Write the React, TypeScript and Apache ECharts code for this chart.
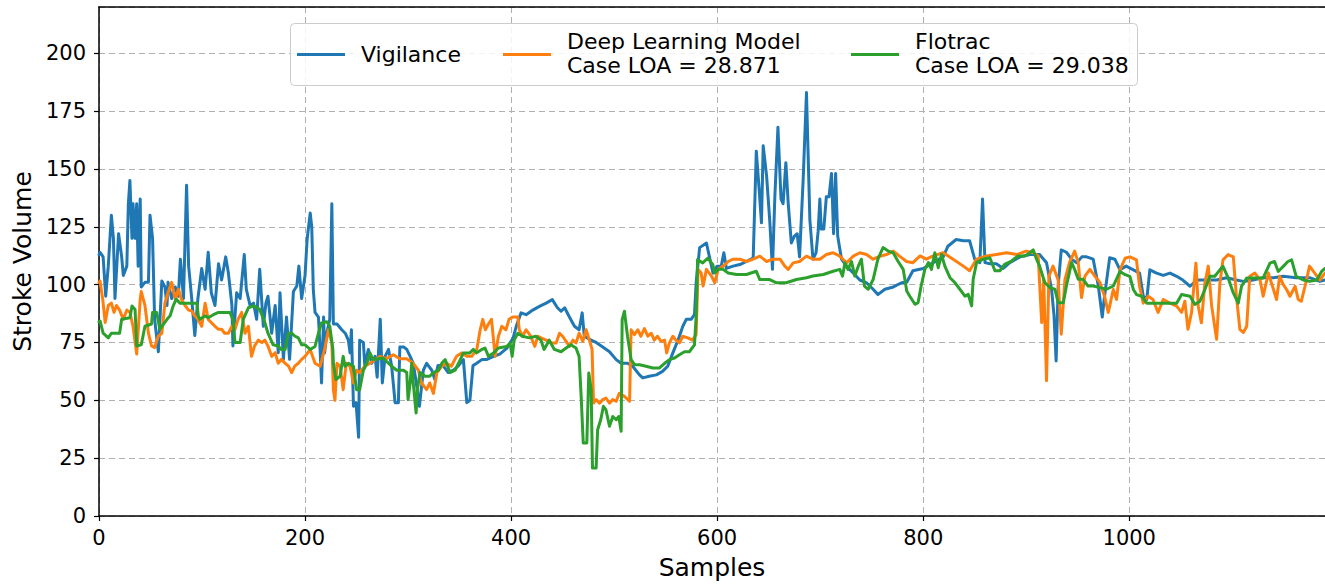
import React, { useEffect, useRef } from "react";
import * as echarts from "echarts";

// ---------- data ----------
const seriesNames = ["Vigilance", "Deep Learning Model\nCase LOA = 28.871", "Flotrac\nCase LOA = 29.038"];
const seriesColors = ["#1f77b4", "#ff7f0e", "#2ca02c"];
const xTicks = [0, 200, 400, 600, 800, 1000];
const yTicks = [0, 25, 50, 75, 100, 125, 150, 175, 200];

const vigilance: number[][] = [
  [0,113],[1,114],[4,112],[6.5,95],[9,108],[12,130],[14,120],[15.5,94],[19,122],[22,112],[23.6,104],[27,108],[28.5,135],[30,145],[32,120],[33,135],[35,120],[36.6,135],[38,108],[40,137],[41,99],[44.6,101],[48,101],[49.5,130],[52,120],[54,85],[57.6,71],[61,101.6],[64,99],[66,91],[67,101],[70.5,94],[74,99],[77,95],[79,111],[82,94],[85,143],[87,108],[90,94],[93,78],[96,94],[99.7,107],[103,98],[106,114],[109,96.5],[112.6,91],[116,109],[119,102],[123,112],[125.6,105],[129,91],[130,73.5],[133.6,96.5],[137,94],[141,113],[143,98],[146.6,91],[150,92],[153,85],[156,106.6],[159.5,82],[162,92],[164,95],[167.6,79],[171,91],[174,70.6],[175.7,96.5],[179,67.7],[182,86],[185,67.7],[188.7,97],[192,99.4],[194,108],[196.7,94],[200,104],[202,119.5],[205,131],[206.5,125],[208,98],[209.7,88],[213,86],[214.6,72],[216,57.5],[218,86],[219,70.5],[221,79],[224,85],[226,135],[227.5,83],[231,83],[235.6,80.5],[239,79],[242,76],[243.7,70.5],[245,80.5],[247,47.4],[249.5,49],[252,34],[253,76],[256.6,75],[258,65],[261.5,72],[264.7,66],[268,69],[270,60],[273,85],[275,57.5],[277.7,69],[281,72],[284,65],[287.4,49],[290.6,49],[292,73],[296,73],[298.7,72],[302,69],[305,66],[308,57.5],[311,47.4],[314.8,63],[318,66],[323,63],[326,59],[329,65],[334,65],[339,62],[344,63],[349,65],[353.7,67.6],[357,49],[360,50],[363,65],[366.6,66],[371.6,67.6],[376,67.6],[383,69],[389,70],[396,72.6],[402,77],[405,82],[409.7,87.8],[414.6,87],[421,89],[427.5,90.6],[434,92],[440,93.5],[445,90],[448.5,88.5],[452,90],[456.6,86],[461.5,82],[466,80.5],[469,87.8],[471,77.7],[477.7,76],[482.5,75],[489,73],[495.5,71],[502,67.6],[506.8,66],[513,66],[518,64.7],[524.6,61],[527.8,59.7],[534,60.4],[541,61],[547,62.5],[552,64.7],[557,70.5],[562,76],[566.7,82],[570,85],[574.7,85],[578,87],[579.6,100.7],[583,116],[589.6,118],[593,111],[596,105],[600,108],[604,108],[606.5,113.8],[609,107],[615.5,108],[622,108.7],[628.5,110],[635,111.6],[638,157.7],[640.8,141],[643,126.7],[644.7,160],[648,147],[651,128],[653.7,106.6],[656,138],[659,168],[662,137],[664,135],[666.7,152.7],[669,135],[672,118],[675,121],[677.7,122],[680,112],[683.5,145.5],[686.7,183],[690,128],[693,111],[696,113.8],[698,123],[699.7,137],[701,124],[703.5,124],[706,138],[708.6,138],[711,148],[713,122],[715,148],[717,121],[720.7,111],[725.6,108],[732,105],[738.5,102],[745,100.8],[751.4,98],[756,95.7],[762.8,98],[771,99],[779,100.8],[784,101],[790,106],[800,107],[809.7,109.5],[819.4,112],[824,116.6],[832,119.5],[839,119],[845,119],[850,111],[855,109.5],[857.6,137],[860,109.5],[864.7,109],[871,109],[877.7,107],[884,109.5],[894,112],[903.6,113],[913,113],[919.7,109.5],[924.6,98],[927,86.5],[929,67],[931,99.4],[934,115],[939,114],[944,111],[949,109.5],[954,112],[958.6,112],[965,111],[970,99.4],[973.8,86],[976,95],[981,111.6],[986,111],[991,106.4],[997,108],[1004,106.4],[1010,105],[1013.6,95],[1017,93.6],[1020,106.4],[1026.5,105],[1033,104],[1039.5,105],[1046,103.6],[1052,102],[1059,99.3],[1065.5,102],[1075,102],[1084.8,102],[1094.5,103],[1104,102],[1110.7,101.4],[1120,102],[1130,103],[1140,103],[1149.5,103.6],[1162,103],[1175,103],[1185,101.4],[1190,102]
];

const deepLearning: number[][] = [
  [0,101],[1,101.6],[3.6,93.7],[6,83.6],[9,91],[12,92],[14.6,88],[17,91],[20,89],[23.6,85],[27,89],[30,88],[33,82],[36.6,70],[40,93.7],[41,97],[44.6,91],[48,79],[51,73.5],[54,72.8],[57.6,77.8],[61,79],[64,92],[67,96.5],[70.5,101],[74,93.7],[77,98],[80,93.7],[83.5,91],[87,89],[90,88.6],[93,86.5],[96,85],[99.7,82],[103,92],[106,85],[109,83.6],[112.6,82],[116,80.7],[119,80.7],[122,79],[125.6,79],[129,82],[132,80.7],[135,85],[138.5,88],[141.7,79],[145,82],[148,69],[151,73.5],[154.7,76],[158,75],[161,76],[164,73.5],[167.6,69],[171,70.6],[174,66],[177,67.7],[180.6,66],[184,64.8],[187,62],[190,64.8],[193.5,66],[196.7,67.7],[200,69],[205,72],[209.7,66],[214.6,64.7],[219,72],[222.6,80.5],[226,74.8],[227.5,54.6],[229,50],[231,66],[234,64.7],[237,54.6],[240,66],[243.7,64.7],[247,57.5],[250,63],[253,62],[258,64.7],[263,66],[268,67.6],[273,69],[279,68],[285.7,69.7],[292,68],[298.7,68],[305,66],[310,63],[313,57.5],[318,54.6],[321,57.5],[324.6,53],[328,62],[332.7,64.7],[337.5,66],[342,64.7],[347,69],[352,70.5],[357,69],[361.8,69],[366.7,72],[370,80.5],[372.5,85],[375,80.5],[378,83],[381,85],[384.5,69],[387.7,77.7],[391,82],[395,80.5],[398,85],[401.6,86],[406.5,86],[408,80.5],[411,77.7],[414.6,80.5],[419,77.7],[423,73.3],[426,77.7],[429,77],[434,76],[439,74.8],[443.7,74.8],[447,79],[450,77.7],[453.4,75.5],[456.6,73.3],[460,76],[463,74.8],[466,79],[469.6,75.5],[472.8,80.5],[476,76],[478.6,72],[480,48.8],[482.5,50.3],[485.8,48.8],[489,50.3],[492,51],[495.5,48.8],[498.7,50.3],[502,49.6],[505,53],[510,51.7],[515,49.6],[516.5,80.5],[519.7,78.4],[523,80.5],[526,77.7],[529.4,81],[532.7,77.7],[536,79],[539,76],[542,77.7],[545.6,75.5],[549,76],[551,70.5],[553.7,74.8],[557,77.7],[560,76],[563.4,74.8],[566.6,77.7],[571.5,77],[576,76],[579.6,78.4],[581.5,106.5],[584.5,105],[586.4,99.4],[589.6,106.6],[594.5,103.7],[597.7,100.8],[601,106.6],[605.8,108],[610.7,110],[615.5,111],[622,111],[628.5,110],[635,111],[641.4,112.3],[648,110],[654,111],[661,111],[665.7,108],[669,106.6],[673.8,109.4],[680,110],[686.7,112.3],[693,111],[699.7,111],[706,113],[712.6,113.8],[719,112.3],[725.6,109.4],[732,112.3],[738.5,113.8],[745,113],[751.4,111],[758,112.3],[764.4,113],[771,114.5],[777,112.3],[783.8,110],[790,109.5],[797,112.4],[803,111],[809.7,112.4],[819.4,113.8],[829,111],[839,108],[845,106],[851.8,111],[861.5,112.4],[871,113],[881,113.8],[890.6,113],[900,114.5],[906.8,113.8],[911.6,112.4],[915,83.6],[917,102],[919.7,58.5],[922,103.7],[926,108],[931,102],[934,78.6],[937.5,102],[942,109.5],[947,114.5],[950.5,109.5],[953.7,94.4],[957,103.7],[961.8,106.6],[966.6,103.7],[971.5,101],[976,95],[979.6,88],[981,90.7],[984.5,97.9],[987.7,93.6],[991,106.4],[996,111.4],[1000.6,112],[1007,110.7],[1010,99.3],[1013.6,92],[1018.4,95],[1023,93.6],[1028,88],[1033,93.6],[1039.5,92],[1046,90.7],[1050.8,88],[1054,92.8],[1057,80.7],[1060.5,88],[1064.7,109.3],[1067,90.7],[1070,83.5],[1073.4,100.7],[1076.7,108],[1080,90.7],[1084.8,76.4],[1088,100.7],[1091,110.7],[1096,113],[1101,112],[1104,95],[1107.4,80.7],[1110.7,79.3],[1114,82],[1117,103.6],[1122,105],[1127,102],[1130,95],[1135,105],[1140,97.9],[1143,93.6],[1146,103.6],[1149.5,100],[1152.7,97.9],[1156,95],[1161,99.3],[1164,93.6],[1167,92.8],[1170.6,99.3],[1175,108],[1180,105],[1185,102],[1190,105]
];

const flotrac: number[][] = [
  [0,84],[1,84.3],[4,79],[9,77],[12,79],[20,79],[22,85],[30,85.7],[32,90.8],[35,89.3],[36.6,73.5],[41,74],[44.6,82],[51,83],[52,88],[56,88],[59,80.7],[66,85],[69,86.5],[72,90.8],[75,93.7],[78.6,92],[95,92],[96.4,86.5],[98,85],[103,86.5],[106,85.7],[111,87],[116,88],[127,88],[130,85],[132,75],[137,75],[140,85],[145,90],[150,90.8],[156,89.3],[161,83.6],[164,79],[169,74],[174,73.5],[177,72],[180.6,72],[184,79],[187,79],[190,77.8],[193.5,77],[196.7,74],[200,74],[205,72],[209.7,73.3],[213,79],[216,83.4],[221,84],[224,82],[227,72],[227.5,66],[230,59],[234,60.4],[237,69],[238.8,64.7],[242,66],[247,64.7],[250,54.6],[253,54.6],[256.6,63],[260,66],[263,70.5],[266,67.6],[276,68.3],[279,66.9],[284,64.7],[289,63],[295.5,63],[298.7,62],[300,50.3],[302,57.5],[303.5,66],[305,57.5],[307.8,44.5],[309,54.6],[311.6,62],[316.5,60.4],[321,60.4],[324.6,62],[329.4,63],[332.7,66],[336,67.6],[340.8,62],[345.6,63],[349,66],[353.7,70.5],[360,70.5],[363.4,72],[366.6,70.5],[371.5,72],[374.7,72.6],[378,69],[383,70.5],[387.7,72.6],[395.8,73.3],[399,74.8],[401,69],[403,76],[406.5,79],[411,77.7],[417.8,77],[424,77.7],[429,76],[432,72],[437,76],[442,72],[448.5,71],[453.4,72.6],[458,74],[463,72.6],[466,69],[468,51.7],[470,31.6],[473.5,31.6],[475.4,61.8],[477.7,54.6],[479,20.7],[482.5,20.7],[484,37.3],[487,41.6],[489.6,47.4],[492,46],[495.5,38.8],[498.7,43],[502,41.6],[504.5,43],[506.8,36.6],[507.8,84.9],[510,88.5],[513,77.7],[516.5,67.6],[519.7,65.4],[524.6,65.4],[531,64.7],[537.5,64],[544,64],[549,66],[553.7,67.6],[558.6,68.3],[563.4,69.7],[568.3,71],[573,71],[578,74],[579.6,86.3],[581,110.8],[586,109.4],[591,111.5],[595.8,108.6],[597.7,105],[601,106.6],[605.8,106.6],[610.7,105],[618.8,104.4],[628.5,104.4],[638,105.8],[641.4,102.2],[651,102.2],[657.6,100.8],[667,100.8],[677,102.2],[686.7,103],[693,103.7],[703,104.4],[712.6,105.8],[719,106.6],[721.7,103.7],[724,109.4],[727,106.6],[730.4,110],[733.6,103.7],[737,108],[740,111],[743,99.4],[746.6,98],[751.4,102.2],[756,111],[761,116],[766,114.5],[770.8,113.8],[775.7,110],[780.6,106.6],[784,97.3],[787,95],[792,91.5],[795,92.2],[798,99.4],[801.6,106.6],[805,109.5],[808,106.6],[811.3,113.8],[814.6,107.3],[817.8,113],[821,108],[826,103],[830.7,100.9],[835.6,98],[840.5,95],[843.7,95.8],[847,90.8],[848.5,102.3],[851.8,109.5],[858,111],[864.7,111.6],[869.6,106],[874.4,106],[879,108.8],[885.7,110.2],[892,112.4],[898.7,112.4],[903.6,113.8],[906.8,115],[910,111],[913,108],[918,100.9],[923,98.7],[927.8,98],[931,92.2],[936,92.2],[939,99.4],[944,109.5],[947,106.6],[950.5,102.3],[955,102.3],[960,99.4],[965,99.4],[971.5,98.7],[978,98],[984.5,99.4],[991,105.7],[996,104.3],[1000.6,103.6],[1004,97.9],[1007,95.7],[1012,95],[1017,92],[1026.5,92],[1036,92],[1046,92],[1050.8,95.7],[1059,95],[1063.7,91.4],[1068.6,92.8],[1073.4,97.9],[1078.3,103.6],[1083,103.6],[1088,106.4],[1091,107.9],[1096,102.9],[1101,96.4],[1105.8,92],[1109,99.3],[1114,102.9],[1120,102.9],[1130,102.9],[1136.6,109.3],[1141,110],[1144.6,105.7],[1149.5,107.9],[1154,110],[1157.6,110.7],[1162,103.6],[1169,102],[1175,101.4],[1182,102],[1186.7,105.7],[1190,107]
];

const X_MAX = 1190;
const Y_MAX = 220;

const FONT = '"DejaVu Sans", "Liberation Sans", sans-serif';

export default function App() {
  const ref = useRef<HTMLDivElement | null>(null);

  useEffect(() => {
    if (!ref.current) return;
    const chart = echarts.init(ref.current, undefined, { renderer: "svg" });
    const allSeries = [vigilance, deepLearning, flotrac];

    const legendY = 54.5;
    const legendItems = [
      { lineX: 297, textX: 361 },
      { lineX: 503, textX: 567 },
      { lineX: 851, textX: 915 },
    ];
    const graphic: any[] = [
      {
        type: "rect",
        z: 100,
        shape: { x: 290.5, y: 23.5, width: 847, height: 62, r: 4 },
        style: { fill: "rgba(255,255,255,0.85)", stroke: "#cccccc", lineWidth: 1 },
      },
    ];
    legendItems.forEach((it, i) => {
      graphic.push({
        type: "line",
        z: 101,
        shape: { x1: it.lineX, y1: legendY, x2: it.lineX + 48, y2: legendY },
        style: { stroke: seriesColors[i], lineWidth: 3 },
      });
      graphic.push({
        type: "text",
        z: 101,
        x: it.textX,
        y: i === 0 ? legendY : 53.5,
        style: {
          text: seriesNames[i],
          fill: "#000000",
          fontSize: 22,
          fontFamily: FONT,
          align: "left",
          verticalAlign: "middle",
          lineHeight: 24,
        },
      });
    });

    const option: any = {
      animation: false,
      backgroundColor: "#ffffff",
      grid: { left: 99, right: 0, top: 7, bottom: 62, containLabel: false },
      xAxis: [
        {
          type: "value",
          min: 0,
          max: X_MAX,
          interval: 200,
          name: "Samples",
          nameLocation: "middle",
          nameGap: 39,
          nameTextStyle: { fontSize: 25, fontFamily: FONT, color: "#000" },
          axisLine: { show: true, onZero: false, lineStyle: { color: "#000", width: 1.5 } },
          axisTick: { show: true, length: 5, lineStyle: { color: "#000", width: 1.2 } },
          axisLabel: {
            fontSize: 21,
            fontFamily: FONT,
            color: "#000",
            margin: 11,
            showMaxLabel: false,
            formatter: (v: number) => (xTicks.includes(v) ? String(v) : ""),
          },
          splitLine: { show: true, lineStyle: { color: "#b0b0b0", type: [6, 4], width: 1 } },
        },
        {
          type: "value",
          position: "top",
          min: 0,
          max: X_MAX,
          axisLine: { show: true, onZero: false, lineStyle: { color: "#000", width: 1.5 } },
          axisTick: { show: false },
          axisLabel: { show: false },
          splitLine: { show: false },
        },
      ],
      yAxis: {
        type: "value",
        min: 0,
        max: Y_MAX,
        interval: 25,
        name: "Stroke Volume",
        nameLocation: "middle",
        nameGap: 62,
        nameTextStyle: { fontSize: 25, fontFamily: FONT, color: "#000" },
        axisLine: { show: true, onZero: false, lineStyle: { color: "#000", width: 1.5 } },
        axisTick: { show: true, length: 5, lineStyle: { color: "#000", width: 1.2 } },
        axisLabel: {
          fontSize: 21,
          fontFamily: FONT,
          color: "#000",
          margin: 13,
          showMaxLabel: false,
          formatter: (v: number) => (yTicks.includes(v) ? String(v) : ""),
        },
        splitLine: { show: true, lineStyle: { color: "#b0b0b0", type: [6, 4], width: 1 } },
      },
      series: allSeries.map((d, i) => ({
        type: "line",
        name: seriesNames[i],
        xAxisIndex: 0,
        data: d,
        showSymbol: false,
        symbol: "none",
        clip: true,
        z: 2 + i,
        lineStyle: { color: seriesColors[i], width: 3, join: "round", cap: "round" },
        itemStyle: { color: seriesColors[i] },
      })),
      graphic,
    };

    chart.setOption(option);
    return () => chart.dispose();
  }, []);

  return (
    <div
      ref={ref}
      style={{ position: "absolute", left: 0, top: 0, width: 1325, height: 585, background: "#fff" }}
    />
  );
}
